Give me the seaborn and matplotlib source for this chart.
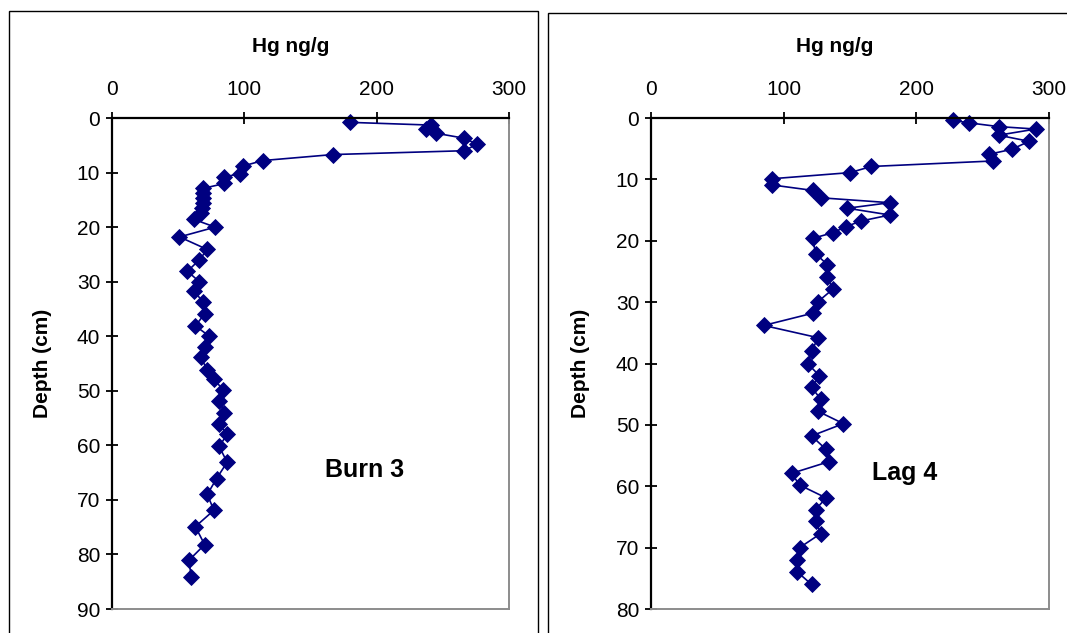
import matplotlib
matplotlib.use("Agg")
import matplotlib.pyplot as plt
import seaborn as sns
import pandas as pd
from matplotlib.patches import Rectangle

# ---- data ----
burn_depth = [0.8, 1.3, 2.0, 2.8, 3.7, 4.8, 6.0, 6.7, 7.8, 8.8,
              10.2, 10.8, 12.0, 12.9, 13.8, 14.7, 15.6, 16.5, 17.4, 18.6,
              20.0, 21.8, 24.1, 26.0, 28.1, 30.0, 31.7, 33.8, 35.9, 38.1,
              39.9, 42.0, 43.9, 46.1, 47.9, 49.8, 51.8, 54.0, 56.1, 58.0,
              60.2, 63.1, 66.1, 69.0, 71.9, 74.9, 78.2, 81.1, 84.1]
burn_hg = [180, 241, 237, 245, 266, 276, 266, 167, 114, 99,
           97, 85, 85, 69, 69, 69, 69, 68, 67, 62,
           78, 51, 72, 66, 57, 66, 62, 69, 70, 63,
           73, 70, 67, 72, 77, 84, 81, 85, 81, 87,
           81, 87, 79, 72, 77, 63, 70, 58, 60]

lag_depth = [0.4, 0.8, 1.4, 1.8, 2.8, 3.8, 5.1, 5.9, 7.0, 7.9,
             8.9, 9.9, 10.9, 11.8, 13.0, 13.8, 14.7, 15.8, 16.8, 17.7,
             18.7, 19.6, 22.1, 23.9, 25.9, 27.9, 29.9, 31.8, 33.8, 35.8,
             38.0, 40.0, 42.0, 43.9, 45.8, 47.8, 49.8, 51.8, 54.0, 56.0,
             57.9, 59.8, 61.9, 63.8, 65.7, 67.7, 70.0, 72.0, 73.9, 76.0]
lag_hg = [228, 240, 262, 290, 262, 285, 272, 255, 258, 166,
          150, 91, 91, 122, 128, 180, 148, 180, 158, 147,
          137, 122, 124, 133, 133, 137, 126, 122, 85, 126,
          121, 118, 127, 121, 128, 126, 145, 121, 132, 134,
          106, 112, 132, 124, 124, 128, 112, 110, 110, 121]

x_ticks = [0, 100, 200, 300]
burn_yticks = list(range(0, 91, 10))
lag_yticks = list(range(0, 81, 10))
x_label = "Hg ng/g"
y_label = "Depth (cm)"
burn_name = "Burn 3"
lag_name = "Lag 4"

sns.set_theme(style="white")
plt.rcParams["font.family"] = ["Liberation Sans", "DejaVu Sans"]
plt.rcParams["text.color"] = "black"
plt.rcParams["axes.labelcolor"] = "black"

W, H = 1067, 633
fig = plt.figure(figsize=(W / 100, H / 100), dpi=100)
fig.patch.set_facecolor("white")

# outer chart frames
fig.add_artist(Rectangle((8.6 / W, -0.1), (538 - 8.6) / W, 1.1 - 10.7 / H,
                         transform=fig.transFigure, fill=False,
                         edgecolor="black", linewidth=1.0))
fig.add_artist(Rectangle((548 / W, -0.1), 0.6, 1.1 - 13 / H,
                         transform=fig.transFigure, fill=False,
                         edgecolor="black", linewidth=1.0))

def panel(rect, hg, depth, ymax, yticks, name, ylab_x, name_pos):
    ax = fig.add_axes(rect)
    df = pd.DataFrame({"hg": hg, "depth": depth})
    sns.lineplot(data=df, x="hg", y="depth", ax=ax, sort=False,
                 estimator=None, color="#000080", linewidth=1.2,
                 marker="D", markersize=7.8, markeredgecolor="#000080",
                 markeredgewidth=0.6, clip_on=False)
    ax.set_xlim(0, 300)
    ax.set_ylim(ymax, 0)
    ax.set_xticks(x_ticks)
    ax.set_yticks(yticks)
    ax.xaxis.tick_top()
    ax.tick_params(axis="x", which="both", top=True, bottom=False,
                   direction="inout", length=8, width=1.3, color="black",
                   labelsize=15, pad=9.5, labelcolor="black")
    ax.tick_params(axis="y", which="both", left=True, right=False,
                   direction="inout", length=8, width=1.3, color="black",
                   labelsize=15, pad=4.5, labelcolor="black")
    for s in ("top", "left"):
        ax.spines[s].set_color("black")
        ax.spines[s].set_linewidth(1.6)
    for s in ("right", "bottom"):
        ax.spines[s].set_color("#8c8c8c")
        ax.spines[s].set_linewidth(1.4)
    ax.grid(False)
    ax.set_facecolor("white")
    ax.xaxis.set_label_position("top")
    ax.set_xlabel(x_label, fontsize=15, fontweight="bold", color="black")
    ax.xaxis.set_label_coords(name_pos[2], 1.135)
    ax.set_ylabel(y_label, fontsize=15, fontweight="bold", color="black")
    ax.yaxis.set_label_coords(ylab_x, 0.5)
    ax.text(name_pos[0], name_pos[1], name, transform=ax.transAxes,
            ha="center", va="center", fontsize=18, fontweight="bold",
            color="black")
    return ax

top = 1 - 118 / H
bottom = 1 - 609 / H
panel([112 / W, bottom, (509 - 112) / W, top - bottom], burn_hg, burn_depth,
      90, burn_yticks, burn_name, -0.150, (0.637, 0.283, 0.451))
panel([651 / W, bottom, (1049 - 651) / W, top - bottom], lag_hg, lag_depth,
      80, lag_yticks, lag_name, -0.153, (0.638, 0.277, 0.462))

fig.savefig("out.png", dpi=100, facecolor="white")
